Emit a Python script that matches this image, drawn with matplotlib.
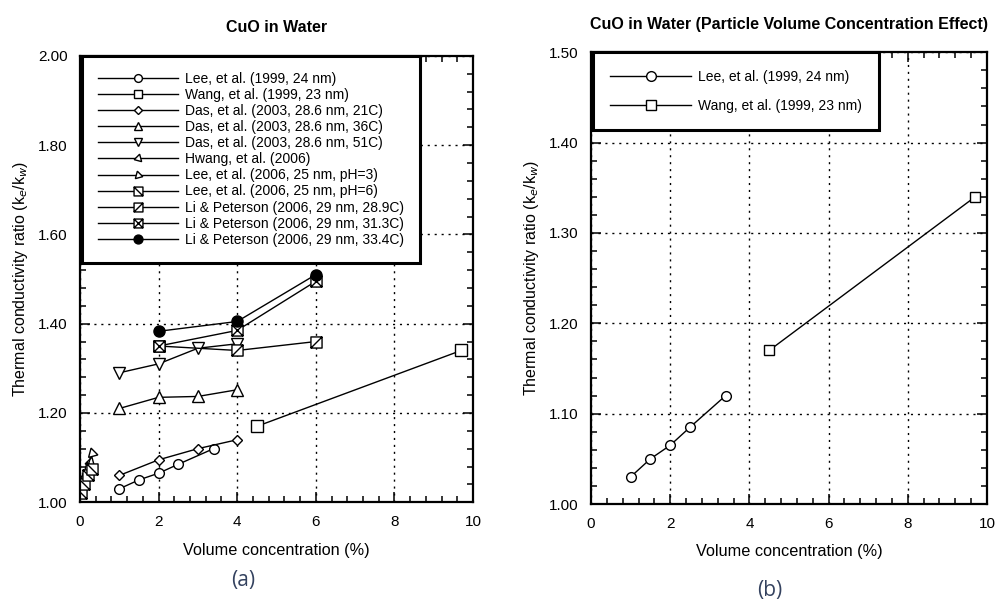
import matplotlib
matplotlib.use("Agg")
import matplotlib.pyplot as plt
from matplotlib.path import Path
from matplotlib.ticker import MultipleLocator, FormatStrFormatter

plt.rcParams['font.family'] = ['Liberation Sans', 'DejaVu Sans']

# CuO / water data
lee99_x = [1.0, 1.5, 2.0, 2.5, 3.4]
lee99_y = [1.03, 1.05, 1.065, 1.085, 1.12]
wang99_x = [4.5, 9.7]
wang99_y = [1.17, 1.34]
das_x = [1, 2, 3, 4]
das21_y = [1.06, 1.095, 1.12, 1.14]
das36_y = [1.21, 1.235, 1.237, 1.252]
das51_y = [1.29, 1.31, 1.345, 1.355]
hwang06_x = [0.05, 0.15, 0.25]
hwang06_y = [1.035, 1.06, 1.09]
lee06_x = [0.02, 0.1, 0.2, 0.3]
lee06_ph3_y = [1.03, 1.055, 1.08, 1.11]
lee06_ph6_y = [1.02, 1.04, 1.06, 1.075]
li_x = [2, 4, 6]
li289_y = [1.35, 1.34, 1.36]
li313_y = [1.35, 1.385, 1.495]
li334_y = [1.383, 1.405, 1.51]

labels = ["Lee, et al. (1999, 24 nm)",
          "Wang, et al. (1999, 23 nm)",
          "Das, et al. (2003, 28.6 nm, 21C)",
          "Das, et al. (2003, 28.6 nm, 36C)",
          "Das, et al. (2003, 28.6 nm, 51C)",
          "Hwang, et al. (2006)",
          "Lee, et al. (2006, 25 nm, pH=3)",
          "Lee, et al. (2006, 25 nm, pH=6)",
          "Li & Peterson (2006, 29 nm, 28.9C)",
          "Li & Peterson (2006, 29 nm, 31.3C)",
          "Li & Peterson (2006, 29 nm, 33.4C)"]

M, L, C = Path.MOVETO, Path.LINETO, Path.CLOSEPOLY
box = [(-1, -1), (1, -1), (1, 1), (-1, 1), (-1, -1)]
box_codes = [M, L, L, L, C]
sq_fwd = Path(box + [(-1, -1), (1, 1)], box_codes + [M, L])
sq_back = Path(box + [(-1, 1), (1, -1)], box_codes + [M, L])
sq_cross = Path(box + [(-1, -1), (1, 1), (-1, 1), (1, -1)], box_codes + [M, L, M, L])


def style_axes(ax, ymin, ymax, ymaj, ymin_step):
    ax.set_xlim(0, 10)
    ax.set_ylim(ymin, ymax)
    ax.xaxis.set_major_locator(MultipleLocator(2))
    ax.xaxis.set_minor_locator(MultipleLocator(0.4))
    ax.yaxis.set_major_locator(MultipleLocator(ymaj))
    ax.yaxis.set_minor_locator(MultipleLocator(ymin_step))
    ax.yaxis.set_major_formatter(FormatStrFormatter('%.2f'))
    ax.tick_params(which='both', direction='in', top=True, right=True,
                   labelsize=11, width=1.1)
    ax.tick_params(which='major', length=7, pad=9)
    ax.tick_params(which='minor', length=4.5)
    ax.grid(True, which='major', linestyle=(0, (1.5, 3.5)), color='black', lw=1.0)
    for s in ax.spines.values():
        s.set_linewidth(1.6)
    ax.set_xlabel("Volume concentration (%)", fontsize=11.7, labelpad=10)
    ax.set_ylabel(r"Thermal conductivity ratio (k$_e$/k$_w$)", fontsize=11.5, labelpad=6)


fig = plt.figure(figsize=(10, 6.08), dpi=100)

# (a) all CuO data sets
ax1 = fig.add_axes([0.080, 0.174, 0.393, 0.734])
kw = dict(color='black', lw=1.0, mfc='white', mec='black', mew=1.0)
ax1.plot(lee99_x, lee99_y, marker='o', ms=7, **kw)
ax1.plot(wang99_x, wang99_y, marker='s', ms=8, **kw)
ax1.plot(das_x, das21_y, marker='D', ms=5.5, **kw)
ax1.plot(das_x, das36_y, marker='^', ms=8, **kw)
ax1.plot(das_x, das51_y, marker='v', ms=8, **kw)
ax1.plot(hwang06_x, hwang06_y, marker=(3, 0, -15), ms=8, **kw)
ax1.plot(lee06_x, lee06_ph3_y, marker=(3, 0, 15), ms=8, **kw)
ax1.plot(lee06_x, lee06_ph6_y, marker=sq_back, ms=8, **kw)
ax1.plot(li_x, li289_y, marker=sq_fwd, ms=8, **kw)
ax1.plot(li_x, li313_y, marker=sq_cross, ms=8, **kw)
ax1.plot(li_x, li334_y, marker='o', ms=8, color='black', lw=1.0, mfc='black', mec='black')
style_axes(ax1, 1.0, 2.0, 0.2, 0.04)
ax1.set_title("CuO in Water", fontsize=11.5, fontweight='bold', pad=17)
leg1 = ax1.legend(ax1.get_lines(), labels, loc='upper left', bbox_to_anchor=(0.005, 1.0),
                  borderaxespad=0, fontsize=10, handlelength=5.8, handletextpad=0.5,
                  labelspacing=0.15, borderpad=1.15, numpoints=1, markerscale=0.8,
                  fancybox=False, framealpha=1, edgecolor='black')
leg1.get_frame().set_linewidth(2.2)

# (b) volume concentration effect
ax2 = fig.add_axes([0.591, 0.171, 0.396, 0.743])
ax2.plot(lee99_x, lee99_y, marker='o', ms=7, label=labels[0], **kw)
ax2.plot(wang99_x, wang99_y, marker='s', ms=7, label=labels[1], **kw)
style_axes(ax2, 1.0, 1.5, 0.1, 0.02)
ax2.set_title("CuO in Water (Particle Volume Concentration Effect)", fontsize=11.5,
              fontweight='bold', pad=17)
leg2 = ax2.legend(loc='upper left', bbox_to_anchor=(0.005, 1.0), borderaxespad=0,
                  fontsize=10, handlelength=5.8, handletextpad=0.5, labelspacing=1.1,
                  borderpad=1.25, numpoints=1, fancybox=False, framealpha=1,
                  edgecolor='black')
leg2.get_frame().set_linewidth(2.2)

fig.text(0.243, 0.045, "(a)", fontsize=15, color='#34425f', ha='center', va='center',
         family=['Open Sans', 'DejaVu Sans'])
fig.text(0.770, 0.029, "(b)", fontsize=15, color='#34425f', ha='center', va='center',
         family=['Open Sans', 'DejaVu Sans'])

fig.savefig("out.png", dpi=100)
